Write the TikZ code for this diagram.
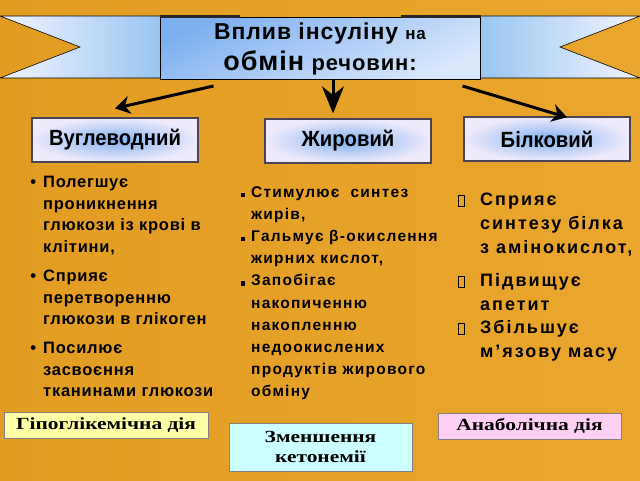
\documentclass[tikz,border=0pt]{standalone}
\usepackage{fontspec}
\setmainfont{Liberation Sans}
\newfontfamily\timesfont[FakeStretch=1.26]{Liberation Serif}
\newfontfamily\narrowfont[FakeStretch=0.92]{Liberation Sans}
\usetikzlibrary{calc, positioning, arrows.meta}
\definecolor{bgleft}{RGB}{226,156,34}
\definecolor{bgmid}{RGB}{242,186,70}
\definecolor{bgright}{RGB}{234,166,46}
\definecolor{ribpale}{RGB}{242,244,255}
\definecolor{ribblue}{RGB}{150,196,240}
\definecolor{titblue}{RGB}{126,176,240}
\definecolor{titpale}{RGB}{218,232,252}
\definecolor{boxpale}{RGB}{238,234,252}
\definecolor{boxblue}{RGB}{130,178,240}
\definecolor{hypofill}{RGB}{255,255,168}
\definecolor{ketofill}{RGB}{204,255,255}
\definecolor{anabfill}{RGB}{255,208,246}
\definecolor{edgegray}{RGB}{70,70,82}
\tikzset{
    titlenode/.style = {draw=black, line width=1pt, rectangle, inner sep=0pt,
      minimum width=320pt, minimum height=62pt, top color=titblue, bottom color=titpale,
      shading angle=25, align=center, font=\bfseries\fontsize{23}{31}\selectfont\addfontfeatures{LetterSpace=4}},
    boxnode/.style = {draw=edgegray, line width=1.3pt, rectangle, inner sep=0pt,
      minimum height=44pt, inner color=boxblue, outer color=boxpale,
      node distance=0pt, font=\narrowfont\bfseries\fontsize{22}{24}\selectfont},
    labelnode/.style = {draw=gray, line width=0.8pt, rectangle, inner sep=0pt,
      node distance=0pt, align=center, font=\timesfont\bfseries\fontsize{17}{20}\selectfont},
    textnode/.style = {inner sep=0pt, anchor=north west, align=left},
    connect/.style = {black, line width=3pt, -{Stealth[length=15pt, width=18pt]}}
}
\newcommand{\dotbul}{\llap{•\hspace{7pt}}}
\newcommand{\sqbul}{\llap{\rule{4.5pt}{4.5pt}\hspace{6pt}}}
\newcommand{\boxbul}{\llap{{\setlength{\fboxsep}{0pt}\setlength{\fboxrule}{1.2pt}%
    \fbox{\rule{0pt}{10pt}\hspace{4.6pt}}}\hspace{15pt}}}

\begin{document}
\begin{tikzpicture}[x=1pt, y=1pt]
    \shade[left color=bgleft, middle color=bgmid, right color=bgright] (0,0) rectangle (640,480);
    \useasboundingbox (0,0) rectangle (640,480);

    % ribbon behind the title
    \draw[line width=0.6pt, left color=ribpale, right color=ribblue]
        (0,464) -- (165,464) -- (165,402) -- (0,402) -- (80,433) -- cycle;
    \draw[line width=0.6pt, left color=ribblue, right color=ribpale]
        (640,464) -- (475,464) -- (475,402) -- (640,402) -- (560,433) -- cycle;

    \node [name=title, titlenode] at (320,431.5)
        {Вплив інсуліну {\fontsize{17}{31}\selectfont на}\\
         {\fontsize{27}{31}\selectfont обмін} {\fontsize{22}{31}\selectfont речовин:}};
    \draw[line width=3pt, black!85] (title.north west) -- ++(80,0);
    \draw[line width=3pt, black!85] (title.north east) -- ++(-80,0);

    \node [name=carb, boxnode, minimum width=166pt, below of = title, xshift=-205pt, yshift=-91.5pt] {Вуглеводний};
    \node [name=fat, boxnode, minimum width=166pt, below of = title, xshift=28pt, yshift=-92.5pt] {Жировий};
    \node [name=prot, boxnode, minimum width=166pt, below of = title, xshift=227pt, yshift=-90.5pt] {Білковий};

    \draw[connect] ($(title.south west)+(54,-6)$) -- ($(carb.north)+(0,9)$);
    \draw[connect, -{Stealth[length=27pt, width=22pt]}] ($(title.south)+(13,0)$) -- ($(fat.north)+(-15,5)$);
    \draw[connect] ($(title.south east)+(-18,-6)$) -- ($(prot.north)+(20,-1)$);

    % lists
    \node [name=carblist, textnode, font=\bfseries\fontsize{16.5}{21.7}\selectfont\addfontfeatures{LetterSpace=4.5}] at (43,304)
        {\dotbul Полегшує\\проникнення\\глюкози із крові в\\клітини,\\[7pt]
         \dotbul Сприяє\\перетворенню\\глюкози в глікоген\\[7pt]
         \dotbul Посилює\\засвоєння\\тканинами глюкози};
    \node [name=fatlist, textnode, font=\bfseries\fontsize{15.5}{22.2}\selectfont\addfontfeatures{LetterSpace=8}] at (251,294)
        {\sqbul Стимулює\ \ синтез\\жирів,\\
         \sqbul Гальмує β-окислення\\жирних кислот,\\
         \sqbul Запобігає\\накопиченню\\накопленню\\недоокислених\\продуктів жирового\\обміну};
    \node [name=protlist, textnode, font=\bfseries\fontsize{18}{24}\selectfont\addfontfeatures{LetterSpace=11}] at (480,287)
        {\boxbul Сприяє\\синтезу білка\\з амінокислот,\\[9pt]
         \boxbul Підвищує\\апетит\\[-1pt]
         \boxbul Збільшує\\м’язову масу};

    % effects
    \node [name=hypo, labelnode, fill=hypofill, minimum width=204pt, minimum height=26pt,
        below of = carb, xshift=-9pt, yshift=-285pt] {Гіпоглікемічна дія};
    \node [name=keto, labelnode, fill=ketofill, minimum width=183pt, minimum height=48pt,
        below of = fat, xshift=-27.5pt, yshift=-306pt] {Зменшення\\кетонемії};
    \node [name=anab, labelnode, fill=anabfill, minimum width=183pt, minimum height=26pt,
        below of = prot, xshift=-17.5pt, yshift=-287pt] {Анаболічна дія};
\end{tikzpicture}
\end{document}
